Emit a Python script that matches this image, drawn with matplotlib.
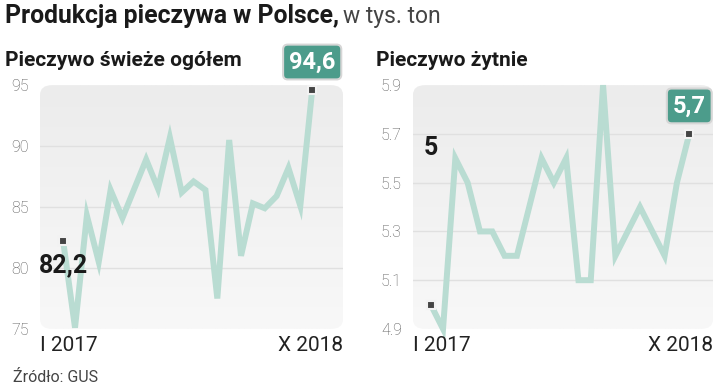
import numpy as np
import matplotlib.pyplot as plt
from matplotlib.patches import FancyBboxPatch

plt.rcParams['font.family'] = ['Roboto', 'DejaVu Sans']

# monthly production, I 2017 - X 2018
months = list(range(22))
fresh = [82.2, 75.1, 84.3, 80.5, 86.4, 84.1, 86.5, 88.9, 86.5, 90.7, 86.2,
         87.1, 86.4, 77.5, 90.5, 81.0, 85.3, 84.9, 85.9, 88.2, 85.1, 94.6]
rye = [5.0, 4.9, 5.6, 5.5, 5.3, 5.3, 5.2, 5.2, 5.4, 5.6, 5.5,
       5.6, 5.1, 5.1, 5.9, 5.2, 5.3, 5.4, 5.3, 5.2, 5.5, 5.7]
fresh_ticks = [75, 80, 85, 90, 95]
rye_ticks = [4.9, 5.1, 5.3, 5.5, 5.7, 5.9]
x_labels = ["I 2017", "X 2018"]

line_color = "#b9dcd2"
teal = "#4c9c8b"

fig = plt.figure(figsize=(7.2, 3.87), dpi=100)


def panel(rect, values, ticks, xlim, tick_fmt, first_lbl, last_lbl, first_off):
    ax = fig.add_axes(rect)
    for s in ax.spines.values():
        s.set_visible(False)

    # rounded grey gradient background
    box = FancyBboxPatch((0, 0), 1, 1, boxstyle="round,pad=0,rounding_size=0.04",
                         transform=ax.transAxes, fc="none", ec="none")
    ax.add_patch(box)
    grad = np.linspace(0, 1, 100).reshape(-1, 1)
    cmap = plt.matplotlib.colors.LinearSegmentedColormap.from_list("g", ["#f8f8f8", "#ececec"])
    im = ax.imshow(grad, cmap=cmap, aspect="auto",
                   extent=[xlim[0], xlim[1], ticks[-1], ticks[0]], zorder=0)
    im.set_clip_path(box)
    ax.set_xlim(*xlim)
    ax.set_ylim(ticks[0], ticks[-1])

    for t in ticks[1:-1]:
        ax.axhline(t, color="#e0e0e0", lw=1, zorder=1)

    ax.plot(months, values, color=line_color, lw=4.3, solid_joinstyle="miter",
            zorder=2, clip_on=False)
    ax.plot([months[0], months[-1]], [values[0], values[-1]], ls="none", marker="s",
            ms=5.5, mfc="#444444", mec="#f2f2f2", mew=1.5, zorder=3, clip_on=False)

    ax.set_yticks(ticks)
    ax.set_yticklabels([tick_fmt.format(t) for t in ticks], color="#555555",
                       fontsize=11.5, fontweight="light")
    ax.tick_params(axis="y", length=0, pad=8)
    ax.set_xticks([])

    ax.text(0, -0.03, x_labels[0], transform=ax.transAxes, ha="left", va="top",
            fontsize=15, color="#222222")
    ax.text(1, -0.03, x_labels[1], transform=ax.transAxes, ha="right", va="top",
            fontsize=15, color="#222222")

    ax.annotate(first_lbl, (months[0], values[0]), xytext=(0, first_off),
                textcoords="offset pixels", ha="center", va="center",
                fontsize=18, fontweight="bold", color="#1a1a1a", zorder=4)
    ax.annotate(last_lbl, (months[-1], values[-1]), xytext=(0, 28),
                textcoords="offset pixels", ha="center", va="center",
                fontsize=17, fontweight="bold", color="white", zorder=4,
                bbox=dict(boxstyle="round,pad=0.25,rounding_size=0.2",
                          fc=teal, ec="#d6d6d6", lw=1.5))
    return ax


panel([0.0556, 0.150, 0.4208, 0.630], fresh, fresh_ticks, (-1.95, 23.6),
      "{:.0f}", "82,2", "94,6", -24)
panel([0.5736, 0.150, 0.4167, 0.630], rye, rye_ticks, (-1.44, 22.93),
      "{:.1f}", "5", "5,7", 157)

# titles
r = fig.canvas.get_renderer()
t1 = fig.text(5 / 720, 1 - 16 / 387, "Produkcja pieczywa w Polsce,", fontsize=17.8,
              fontweight="bold", color="#1a1a1a", va="center", ha="left")
bb = t1.get_window_extent(r)
fig.text(bb.x1 / 720 + 0.006, 1 - 16 / 387, "w tys. ton", fontsize=16.5,
         color="#444444", va="center", ha="left")

fig.text(5 / 720, 1 - 60 / 387, "Pieczywo świeże ogółem", fontsize=15,
         fontweight="bold", color="#1a1a1a", va="center", ha="left")
fig.text(376 / 720, 1 - 60 / 387, "Pieczywo żytnie", fontsize=15,
         fontweight="bold", color="#1a1a1a", va="center", ha="left")
fig.text(13 / 720, 1 - 377 / 387, "Źródło: GUS", fontsize=11.5,
         color="#444444", va="center", ha="left")

fig.savefig("out.png", dpi=100)
